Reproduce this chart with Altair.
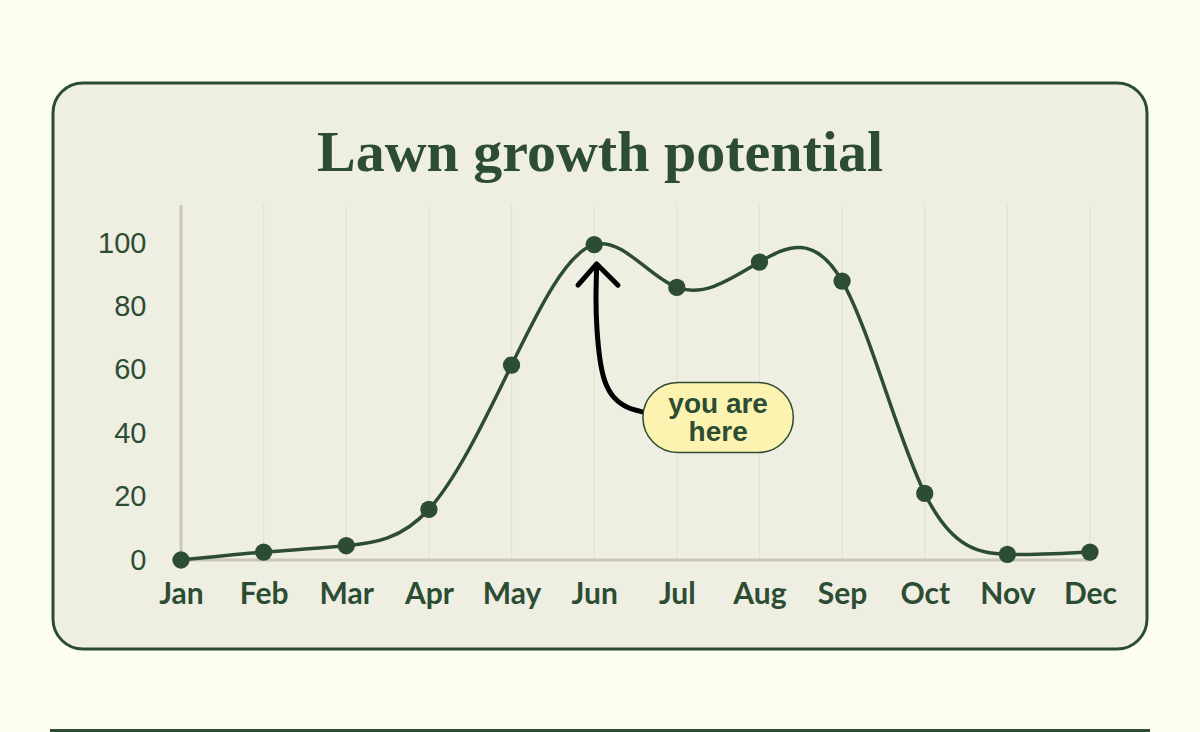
import altair as alt
import pandas as pd

# ---- data ----
months = ["Jan", "Feb", "Mar", "Apr", "May", "Jun", "Jul", "Aug", "Sep", "Oct", "Nov", "Dec"]
growth = [0, 2.5, 4.5, 16, 61.5, 99.5, 86, 94, 88, 21, 1.8, 2.5]
y_ticks = [0, 20, 40, 60, 80, 100]
title_text = "Lawn growth potential"
note_lines = ["you are", "here"]

# annotation geometry, in data units (month index, growth value)
arrow_x = [5.615, 5.409, 5.240, 5.131, 5.070, 5.034, 5.022, 5.030]
arrow_y = [46.5, 48.1, 51.3, 56.3, 63.3, 72.8, 82.3, 92.8]
head_x = [4.804, 5.030, 5.288]
head_y = [86.7, 93.4, 86.7]
box_x = [5.59, 7.41]
box_y = [33.9, 56.0]
note_pos = [6.50, 44.6]

# ---- style ----
GREEN = "#2c4d33"
PAGE = "#fefdf1"
PANEL = "#efeee3"
GRID = "#e2e0d4"
AXIS = "#c9c7b8"
W, H = 909, 355
LEFT, TOP = 181, 205

xs = alt.Scale(domain=[0, 11], nice=False, zero=False)
ys = alt.Scale(domain=[0, 112], nice=False, zero=True)

label_expr = str(months) + "[datum.value]"
X_AX = alt.Axis(
    values=list(range(12)), labelExpr=label_expr, title=None,
    domain=False, ticks=False, grid=False, labelFont="Lato",
    labelFontSize=30, labelFontWeight="bold", labelColor=GREEN,
    labelPadding=19, labelFlush=False, zindex=1)
Y_AX = alt.Axis(
    values=y_ticks, title=None, domain=False, ticks=False, grid=False,
    labelFont="Liberation Sans", labelFontSize=29, labelColor=GREEN,
    labelPadding=35, zindex=1)

df = pd.DataFrame({"idx": list(range(len(months))), "month": months, "growth": growth})
one = pd.DataFrame({"a": [0]})

panel = alt.Chart(one).mark_rect(
    fill=PANEL, stroke=GREEN, strokeWidth=3, cornerRadius=30
).encode(
    x=alt.value(53 - LEFT), x2=alt.value(1147 - LEFT),
    y=alt.value(83 - TOP), y2=alt.value(649 - TOP),
)

bottom_rule = alt.Chart(one).mark_rule(color=GREEN, strokeWidth=3).encode(
    x=alt.value(50 - LEFT), x2=alt.value(1150 - LEFT), y=alt.value(730.5 - TOP)
)

grid = alt.Chart(df).mark_rule(color=GRID, strokeWidth=1).encode(
    x=alt.X("idx:Q", scale=xs, axis=X_AX),
    y=alt.value(0), y2=alt.value(H),
)

y_domain = alt.Chart(one).mark_rule(color=AXIS, strokeWidth=3).encode(
    x=alt.value(0), y=alt.value(0), y2=alt.value(H)
)
x_domain = alt.Chart(one).mark_rule(color=AXIS, strokeWidth=3).encode(
    x=alt.value(0), x2=alt.value(W + 2), y=alt.value(H)
)

line = alt.Chart(df).mark_line(
    color=GREEN, strokeWidth=3.5, interpolate="natural"
).encode(
    x=alt.X("idx:Q", scale=xs, axis=X_AX),
    y=alt.Y("growth:Q", scale=ys, axis=Y_AX),
)

points = alt.Chart(df).mark_circle(color=GREEN, opacity=1, size=300).encode(
    x=alt.X("idx:Q", scale=xs, axis=X_AX),
    y=alt.Y("growth:Q", scale=ys, axis=Y_AX),
)

arrow_df = pd.DataFrame({"ax": arrow_x, "ay": arrow_y, "o": list(range(len(arrow_x)))})
arrow = alt.Chart(arrow_df).mark_line(
    color="#000000", strokeWidth=5, interpolate="natural", strokeCap="round"
).encode(
    x=alt.X("ax:Q", scale=xs, axis=X_AX),
    y=alt.Y("ay:Q", scale=ys, axis=Y_AX),
    order="o:O",
)

head_df = pd.DataFrame({"hx": head_x, "hy": head_y, "o": [0, 1, 2]})
head = alt.Chart(head_df).mark_line(
    color="#000000", strokeWidth=5, strokeCap="round", strokeJoin="round"
).encode(
    x=alt.X("hx:Q", scale=xs, axis=X_AX),
    y=alt.Y("hy:Q", scale=ys, axis=Y_AX),
    order="o:O",
)

box_df = pd.DataFrame({"x1": [box_x[0]], "x2": [box_x[1]], "y1": [box_y[0]], "y2": [box_y[1]]})
box = alt.Chart(box_df).mark_rect(
    fill="#fdf3b0", stroke=GREEN, strokeWidth=1.5, cornerRadius=35
).encode(
    x=alt.X("x1:Q", scale=xs, axis=X_AX), x2="x2:Q",
    y=alt.Y("y1:Q", scale=ys, axis=Y_AX), y2="y2:Q",
)

note_df = pd.DataFrame({"nx": [note_pos[0]], "ny": [note_pos[1]], "t": [note_lines]})
note = alt.Chart(note_df).mark_text(
    font="Liberation Sans", fontSize=28, fontWeight="bold", color=GREEN,
    lineHeight=28, align="center", baseline="middle", dy=-14
).encode(
    x=alt.X("nx:Q", scale=xs, axis=X_AX),
    y=alt.Y("ny:Q", scale=ys, axis=Y_AX),
    text="t",
)

title = alt.Chart(pd.DataFrame({"t": [title_text]})).mark_text(
    font="Liberation Serif", fontSize=58, fontWeight="bold", color=GREEN,
    align="center", baseline="alphabetic"
).encode(
    x=alt.value(600 - LEFT), y=alt.value(171 - TOP), text="t"
)

chart = alt.layer(
    panel, bottom_rule, grid, y_domain, x_domain, line, points,
    arrow, head, box, note, title
).properties(
    width=W, height=H, background=PAGE,
    padding={"left": LEFT, "top": TOP, "right": 1200 - LEFT - W, "bottom": 732 - TOP - H},
    autosize=alt.AutoSizeParams(type="none"),
).configure_view(stroke=None)

chart.save("out.html", embed_options={"renderer": "svg", "actions": False})
